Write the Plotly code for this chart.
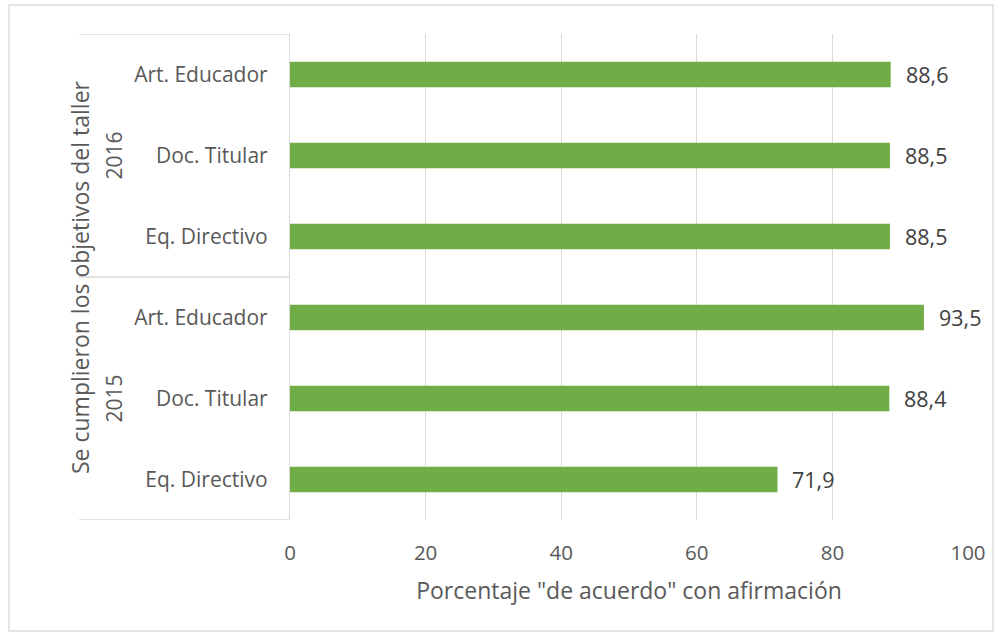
import plotly.graph_objects as go

# Data (top-to-bottom order in the picture)
years = ["2016", "2016", "2016", "2015", "2015", "2015"]
groups = ["Art. Educador", "Doc. Titular", "Eq. Directivo",
          "Art. Educador", "Doc. Titular", "Eq. Directivo"]
values = [88.6, 88.5, 88.5, 93.5, 88.4, 71.9]
x_ticks = [0, 20, 40, 60, 80, 100]

n = len(values)
pos = [n - 1 - i for i in range(n)]  # top item gets highest position

W, H = 1003, 636
L, R, T, B = 290, 968, 34, 520
pw, ph = R - L, B - T

def px_x(p):
    return (p - L) / pw

def px_y(p):
    return (B - p) / ph

FONT = "Open Sans"
GRID = "#D9D9D9"
TXT = "#595959"

fig = go.Figure()
fig.add_trace(go.Bar(
    x=values, y=pos, orientation="h",
    marker=dict(color="#70AD47", line=dict(width=0)),
    width=0.315,
    hoverinfo="skip",
))

# Data labels
for v, p in zip(values, pos):
    fig.add_annotation(x=v, y=p, xref="x", yref="y",
                       text=f"{v:.1f}".replace(".", ","),
                       xanchor="left", yanchor="middle", xshift=13,
                       showarrow=False,
                       font=dict(family=FONT, size=21.5, color="#404040"))

fig.update_layout(
    width=W, height=H,
    margin=dict(l=L, r=W - R, t=T, b=H - B),
    paper_bgcolor="white", plot_bgcolor="white",
    separators=",.",
    showlegend=False,
    font=dict(family=FONT, color=TXT),
    xaxis=dict(
        range=[0, 100], tickvals=x_ticks, ticktext=[str(v) for v in x_ticks],
        showgrid=True, gridcolor=GRID, gridwidth=1.3,
        zeroline=False, showline=False, ticks="",
        tickfont=dict(family=FONT, size=20.5, color=TXT),
        ticklabelstandoff=18,
        title=dict(text='Porcentaje "de acuerdo" con afirmación',
                   font=dict(family=FONT, size=23, color=TXT), standoff=18),
        fixedrange=True,
    ),
    yaxis=dict(
        range=[-0.5, n - 0.5], tickvals=pos, ticktext=groups,
        showgrid=False, zeroline=False,
        showline=True, linecolor=GRID, linewidth=1.3,
        ticks="", ticklabelstandoff=17,
        tickfont=dict(family=FONT, size=21, color=TXT),
        fixedrange=True,
    ),
)

# Multi-level category frame
xl = px_x(79)
for yv in [n - 0.5, 2.5, -0.5]:
    fig.add_shape(type="line", xref="paper", yref="y",
                  x0=xl, x1=0, y0=yv, y1=yv,
                  line=dict(color=GRID, width=1.3), layer="above")

# Year labels
year_labels = ["2016", "2015"]
year_centers = [4.0, 1.0]
for lab, yc in zip(year_labels, year_centers):
    fig.add_annotation(text=lab, xref="paper", yref="y", x=px_x(97), y=yc,
                       textangle=-90, showarrow=False,
                       font=dict(family=FONT, size=21, color=TXT))

# Y axis title
fig.add_annotation(text="Se cumplieron los objetivos del taller",
                   xref="paper", yref="paper", x=px_x(62), y=0.5,
                   textangle=-90, showarrow=False,
                   font=dict(family=FONT, size=23, color=TXT))

# Chart border
fig.add_shape(type="rect", xref="paper", yref="paper",
              x0=px_x(9), x1=px_x(993), y0=px_y(631), y1=px_y(5),
              line=dict(color=GRID, width=1.3), fillcolor="rgba(0,0,0,0)")

fig.write_html("out.html", config={"displayModeBar": False},
               post_script="document.body.style.margin='0';document.body.style.overflow='hidden';")
